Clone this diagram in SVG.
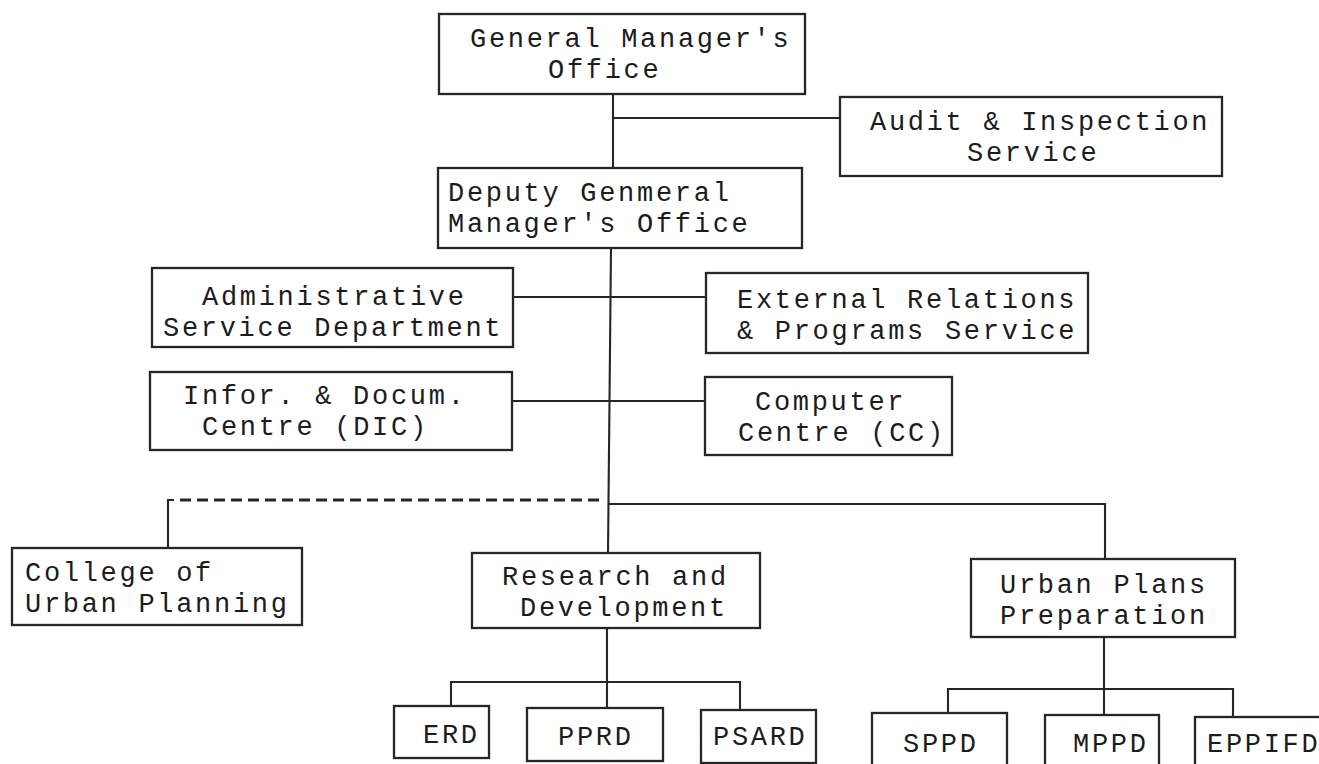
<svg xmlns="http://www.w3.org/2000/svg" width="1319" height="764" viewBox="0 0 1319 764">
<style>
.box{fill:#fff;stroke:#262626;stroke-width:2.3}
.ln{fill:none;stroke:#262626;stroke-width:2.1}
.dash{fill:none;stroke:#262626;stroke-width:3;stroke-dasharray:11 6}
text{font-family:"Liberation Mono","DejaVu Sans Mono",monospace;font-size:27px;letter-spacing:2.7px;fill:#1c1c1c}
</style>
<rect width="1319" height="764" fill="#fff"/>
<g id="connectors">
<path class="ln" d="M613,94 V168"/>
<path class="ln" d="M613,118 H840"/>
<path class="ln" d="M611,248 L608,553"/>
<path class="ln" d="M513,297 H706"/>
<path class="ln" d="M512,401 H705"/>
<path class="ln" d="M168,548 V500 H174"/>
<path class="dash" d="M180,500 H604"/>
<path class="ln" d="M608,504 H1105 V559"/>
<path class="ln" d="M607,628 V708"/>
<path class="ln" d="M451,706 V682 H740 V710"/>
<path class="ln" d="M1104,637 V715"/>
<path class="ln" d="M948,713 V689 H1233 V717"/>
</g>
<g id="gm"><rect class="box" x="439" y="14" width="366" height="80"/><text x="470" y="47">General Manager's</text><text x="548" y="78">Office</text></g>
<g id="audit"><rect class="box" x="840" y="97" width="382" height="79"/><text x="870" y="130">Audit &amp; Inspection</text><text x="967" y="161">Service</text></g>
<g id="deputy"><rect class="box" x="438" y="168" width="364" height="80"/><text x="448" y="201">Deputy Genmeral</text><text x="448" y="232">Manager's Office</text></g>
<g id="admin"><rect class="box" x="152" y="268" width="361" height="79"/><text x="202" y="305">Administrative</text><text x="163" y="336">Service Department</text></g>
<g id="external"><rect class="box" x="706" y="273" width="382" height="80"/><text x="737" y="308">External Relations</text><text x="737" y="339">&amp; Programs Service</text></g>
<g id="dic"><rect class="box" x="150" y="372" width="362" height="78"/><text x="183" y="404">Infor. &amp; Docum.</text><text x="202" y="435">Centre (DIC)</text></g>
<g id="cc"><rect class="box" x="705" y="377" width="247" height="78"/><text x="755" y="410">Computer</text><text x="738" y="441">Centre (CC)</text></g>
<g id="college"><rect class="box" x="12" y="548" width="290" height="77"/><text x="25" y="581">College of</text><text x="25" y="612">Urban Planning</text></g>
<g id="research"><rect class="box" x="472" y="553" width="288" height="75"/><text x="502" y="585">Research and</text><text x="520" y="616">Development</text></g>
<g id="urban"><rect class="box" x="971" y="559" width="264" height="78"/><text x="1000" y="593">Urban Plans</text><text x="1000" y="624">Preparation</text></g>
<g id="erd"><rect class="box" x="394" y="706" width="95" height="52"/><text x="423" y="743">ERD</text></g>
<g id="pprd"><rect class="box" x="527" y="708" width="136" height="53"/><text x="558" y="745">PPRD</text></g>
<g id="psard"><rect class="box" x="701" y="710" width="115" height="53"/><text x="713" y="745">PSARD</text></g>
<g id="sppd"><rect class="box" x="872" y="713" width="135" height="70"/><text x="903" y="752">SPPD</text></g>
<g id="mppd"><rect class="box" x="1045" y="715" width="114" height="70"/><text x="1073" y="752">MPPD</text></g>
<g id="eppifd"><rect class="box" x="1195" y="717" width="140" height="70"/><text x="1207" y="752">EPPIFD</text></g>
</svg>
